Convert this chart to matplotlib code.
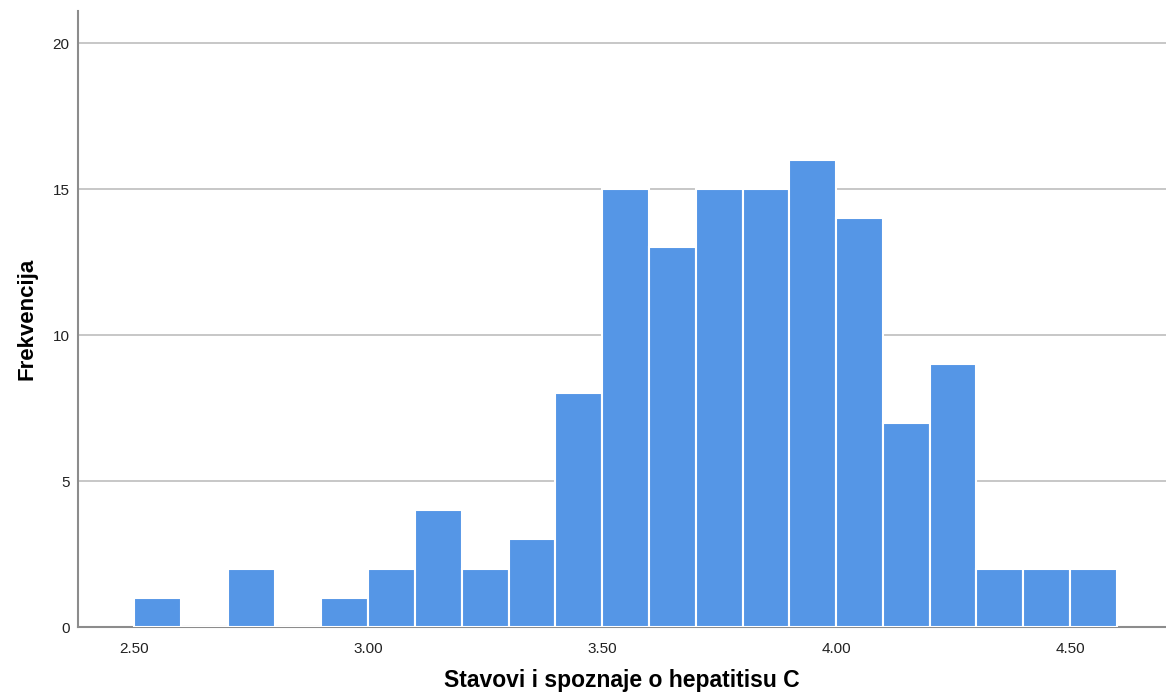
import matplotlib

matplotlib.use('Agg')

import matplotlib.pyplot as plt
import numpy as np

# bin left edges and counts
BIN_STARTS = [2.50, 2.60, 2.70, 2.80, 2.90, 3.00, 3.10, 3.20, 3.30, 3.40, 3.50,
              3.60, 3.70, 3.80, 3.90, 4.00, 4.10, 4.20, 4.30, 4.40, 4.50]
COUNTS = [1, 0, 2, 0, 1, 2, 4, 2, 3, 8, 15, 13, 15, 15, 16, 14, 7, 9, 2, 2, 2]
BIN_WIDTH = 0.10

X_TICKS = [2.50, 3.00, 3.50, 4.00, 4.50]
Y_TICKS = [0, 5, 10, 15, 20]

BAR_COLOR = '#5596e6'
AXIS_COLOR = '#8c8c8c'
GRID_COLOR = '#bdbdbd'

plt.rcParams['font.family'] = ['Liberation Sans', 'DejaVu Sans']


def main():
    fig = plt.figure(figsize=(11.66, 6.97), dpi=100)
    ax = fig.add_axes([0.0669, 0.1004, 0.9331, 0.8838])

    ax.bar(BIN_STARTS, COUNTS, width=BIN_WIDTH, align='edge',
           color=BAR_COLOR, edgecolor='white', linewidth=1.5, zorder=3)

    ax.set_xlim(2.380, 4.705)
    ax.set_ylim(0, 21.1)
    ax.set_xticks(X_TICKS)
    ax.set_xticklabels([f'{v:.2f}' for v in X_TICKS])
    ax.set_yticks(Y_TICKS)
    ax.tick_params(length=0, labelsize=11, colors='#222222')
    ax.tick_params(axis='x', pad=11)
    ax.tick_params(axis='y', pad=6)

    for v in Y_TICKS[1:]:
        ax.axhline(v, color=GRID_COLOR, linewidth=1.2, zorder=1)

    for side in ('top', 'right'):
        ax.spines[side].set_visible(False)
    for side in ('left', 'bottom'):
        ax.spines[side].set_color(AXIS_COLOR)
        ax.spines[side].set_linewidth(1.5)

    ax.set_xlabel('Stavovi i spoznaje o hepatitisu C', fontsize=16.5,
                  fontweight='bold', labelpad=9)
    ax.set_ylabel('Frekvencija', fontsize=16, fontweight='bold', labelpad=11)

    fig.savefig('out.png', dpi=100)
    plt.close(fig)


if __name__ == '__main__':
    main()
